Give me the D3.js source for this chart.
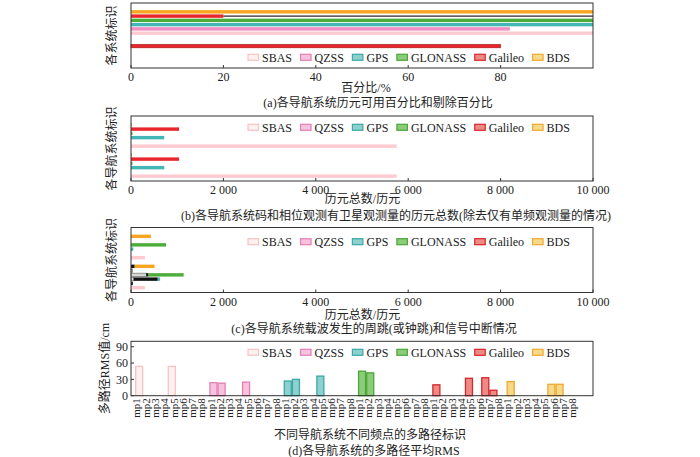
<!DOCTYPE html>
<html><head><meta charset="utf-8">
<script src="https://cdn.jsdelivr.net/npm/d3@7"></script>
<style>
body{margin:0;background:#fff;}
text{font-family:"Liberation Serif","Noto Sans CJK SC",serif;fill:#222;}
</style></head>
<body>
<svg id="c" width="700" height="457"></svg>
<script>
// ---------------- data ----------------
const systems = ["SBAS","QZSS","GPS","GLONASS","Galileo","BDS"];
const strokeColors = ["#f5c4c4","#e47fb5","#3aa9a8","#4aa83a","#d7262b","#efa82e"];
const fillColors   = ["#fdf0f0","#f6c2dd","#8dd0cd","#8ccb78","#ee8a86","#f8d98a"];
const solidColors  = ["#ffcad0","#ef8ec2","#44b6b5","#4cae3a","#e8262b","#f7a61f"];

// (a) percentages
const pctUsable  = [100, 82, 100, 100, 20, 100];
const pctRemoved = [0, 0, 0, 0, 80, 0];
const pctTicks = [0, 20, 40, 60, 80];

// (b) epoch totals, code / phase
const epochsCode  = [5750, 0, 720, 30, 1040, 20];
const epochsPhase = [5750, 0, 720, 30, 1040, 20];
const epochTicks = [0, 2000, 4000, 6000, 8000, 10000];

// (c) cycle slips / interruptions
const slipsOnly   = [300, 0, 50, 760, 0, 430];
const breakGray   = [0, 0, 60, 330, 30, 0];
const breakBlack  = [0, 40, 520, 50, 0, 80];
const breakColor  = [300, 0, 50, 760, 0, 430];

// (d) multipath RMS (cm)
const mpLabels = ["mp1","mp2","mp3","mp4","mp5","mp6","mp7","mp8"];
const mpSBAS    = [54, 0, 0, 0, 54, 0, 0, 0];
const mpQZSS    = [24, 23, 0, 0, 25, 0, 0, 0];
const mpGPS     = [27, 30, 0, 0, 36, 0, 0, 0];
const mpGLONASS = [45, 42, 0, 0, 0, 0, 0, 0];
const mpGalileo = [20, 0, 0, 0, 32, 0, 33, 10];
const mpBDS     = [26, 0, 0, 0, 0, 21, 21, 0];
const rmsTicks = [0, 30, 60, 90];

// ---------------- drawing ----------------
const svg = d3.select("#c");
const L = 131, R = 593;
const fmt = v => d3.format(",")(v).replace(/,/g, " ");

function box(top, bottom){
  svg.append("rect").attr("x", L).attr("y", top).attr("width", R-L).attr("height", bottom-top)
    .attr("fill","none").attr("stroke","#333").attr("stroke-width",1);
}
function legend(y){
  const g = svg.append("g");
  let x = 248;
  systems.forEach((s,i)=>{
    g.append("rect").attr("x", x).attr("y", y-3).attr("width", 10.5).attr("height", 6)
      .attr("fill", fillColors[i]).attr("stroke", strokeColors[i]).attr("stroke-width", 1.2);
    const t = g.append("text").attr("x", x+14).attr("y", y+4.3).attr("font-size", 12).text(s);
    x += 14 + t.node().getComputedTextLength() + 8.5;
  });
}
function xAxis(scale, ticks, bottom, format){
  const g = svg.append("g");
  ticks.forEach(v=>{
    const x = scale(v);
    g.append("line").attr("x1",x).attr("x2",x).attr("y1",bottom).attr("y2",bottom-3).attr("stroke","#333");
    g.append("text").attr("x",x).attr("y",bottom+13.3).attr("text-anchor","middle").attr("font-size",12).text(format(v));
  });
}
function vlabel(x, y, txt){
  svg.append("text").attr("transform",`translate(${x},${y}) rotate(-90)`).attr("text-anchor","middle")
    .attr("dy","0.35em").attr("font-size",12).text(txt);
}
function hlabel(x, y, txt){
  svg.append("text").attr("x",x).attr("y",y).attr("text-anchor","middle").attr("dy","0.35em")
    .attr("font-size",12).text(txt);
}

// series order top-to-bottom inside a group
const innerOrder = systems.slice().reverse();
function groupScales(top){
  const yG = d3.scaleBand().domain(["g0","g1"]).range([top+4.5, top+64.5]);
  const yI = d3.scaleBand().domain(innerOrder).range([-12.8, 12.8]).paddingInner(0.2).paddingOuter(0.1);
  return {yG, yI, y:(g,s)=> yG(g)+yG.bandwidth()/2 + yI(s), h: yI.bandwidth()};
}

// ---- panel (a)
{
  const top = 3, bottom = 68;
  const x = d3.scaleLinear().domain([0,100]).range([L,R]);
  const gs = groupScales(top);
  systems.forEach((s,i)=>{
    svg.append("rect").attr("x",x(0)).attr("y",gs.y("g0",s)).attr("width",x(pctUsable[i])-x(0))
      .attr("height",gs.h).attr("fill",solidColors[i]);
    if(pctRemoved[i]>0){
      svg.append("rect").attr("x",x(pctUsable[i])).attr("y",gs.y("g0",s)+gs.h/2-0.6)
        .attr("width",x(pctUsable[i]+pctRemoved[i])-x(pctUsable[i])).attr("height",1.2).attr("fill","#222");
      svg.append("rect").attr("x",x(0)).attr("y",gs.y("g1",s)).attr("width",x(pctRemoved[i])-x(0))
        .attr("height",gs.h).attr("fill",solidColors[i]).attr("stroke","#a01818").attr("stroke-width",0.6);
    }
  });
  box(top,bottom);
  xAxis(x, pctTicks, bottom, d=>d);
  legend(57.3);
  vlabel(112, 35.5, "各系统标识");
  hlabel(366, 88, "百分比/%");
  hlabel(378, 102.7, "(a)各导航系统历元可用百分比和剔除百分比");
}

// ---- panel (b)
{
  const top = 116, bottom = 181;
  const x = d3.scaleLinear().domain([0,10000]).range([L,R]);
  const gs = groupScales(top);
  [["g0",epochsCode],["g1",epochsPhase]].forEach(([g,arr])=>{
    systems.forEach((s,i)=>{
      if(arr[i]<=0) return;
      svg.append("rect").attr("x",x(0)).attr("y",gs.y(g,s)).attr("width",x(arr[i])-x(0))
        .attr("height",gs.h).attr("fill",solidColors[i]);
    });
  });
  box(top,bottom);
  xAxis(x, epochTicks, bottom, fmt);
  legend(127.3);
  vlabel(112, 148.5, "各导航系统标识");
  hlabel(362.5, 199, "历元总数/历元");
  hlabel(396, 216, "(b)各导航系统码和相位观测有卫星观测量的历元总数(除去仅有单频观测量的情况)");
}

// ---- panel (c)
{
  const top = 227.5, bottom = 292.5;
  const x = d3.scaleLinear().domain([0,10000]).range([L,R]);
  const gs = groupScales(top);
  systems.forEach((s,i)=>{
    if(slipsOnly[i]>0)
      svg.append("rect").attr("x",x(0)).attr("y",gs.y("g0",s)).attr("width",x(slipsOnly[i])-x(0))
        .attr("height",gs.h).attr("fill",solidColors[i]);
    let acc = 0;
    [[breakGray,"#d6d9d2","#555"],[breakBlack,"#111",null],[breakColor,solidColors[i],null]].forEach(([arr,fill,st])=>{
      const v = arr[i];
      if(v<=0) return;
      const r = svg.append("rect").attr("x",x(acc)).attr("y",gs.y("g1",s)).attr("width",x(acc+v)-x(acc))
        .attr("height",gs.h).attr("fill",fill);
      if(st) r.attr("stroke",st).attr("stroke-width",0.6);
      acc += v;
    });
  });
  box(top,bottom);
  xAxis(x, epochTicks, bottom, fmt);
  legend(241.7);
  vlabel(112, 260, "各导航系统标识");
  hlabel(362.5, 315, "历元总数/历元");
  hlabel(374, 329, "(c)各导航系统载波发生的周跳(或钟跳)和信号中断情况");
}

// ---- panel (d)
{
  const top = 341.3, bottom = 395.7;
  const y = d3.scaleLinear().domain([0,100]).range([bottom, top]);
  const mpData = [mpSBAS, mpQZSS, mpGPS, mpGLONASS, mpGalileo, mpBDS];
  const xG = d3.scaleBand().domain(systems).range([135.1, 571.8]).paddingInner(0.1225).paddingOuter(0);
  const xI = d3.scaleBand().domain(mpLabels).range([0, xG.bandwidth()]).paddingInner(0.14).paddingOuter(0.07);
  systems.forEach((s,i)=>{
    mpData[i].forEach((v,j)=>{
      if(v<=0) return;
      svg.append("rect").attr("x",xG(s)+xI(mpLabels[j])).attr("y",y(v)).attr("width",xI.bandwidth())
        .attr("height",y(0)-y(v)).attr("fill",fillColors[i]).attr("stroke",strokeColors[i]).attr("stroke-width",1.3);
    });
  });
  box(top,bottom);
  // y ticks
  rmsTicks.forEach(v=>{
    svg.append("line").attr("x1",L).attr("x2",L+3).attr("y1",y(v)).attr("y2",y(v)).attr("stroke","#333");
    svg.append("text").attr("x",128).attr("y",y(v)).attr("dy","0.35em").attr("text-anchor","end").attr("font-size",12).text(v);
  });
  // category labels
  const cats = [];
  systems.forEach(s=>mpLabels.forEach(m=>cats.push(s+"_"+m)));
  const xc = d3.scaleBand().domain(cats).range([132, 577]);
  cats.forEach(c=>{
    svg.append("text").attr("transform",`translate(${xc(c)+xc.bandwidth()/2},${bottom+2.5}) rotate(-90)`)
      .attr("text-anchor","end").attr("dy","0.35em").attr("font-size",11).text(c.split("_")[1]);
  });
  legend(352.3);
  vlabel(105, 368.5, "多路径RMS值/cm");
  hlabel(370, 434.3, "不同导航系统不同频点的多路径标识");
  hlabel(374, 450.7, "(d)各导航系统的多路径平均RMS");
}
</script>
</body></html>
